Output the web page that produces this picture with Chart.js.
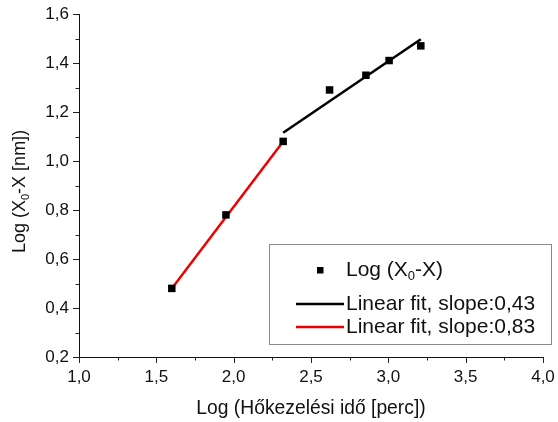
<!DOCTYPE html>
<html>
<head>
<meta charset="utf-8">
<script src="https://cdn.jsdelivr.net/npm/chart.js@4/dist/chart.umd.min.js"></script>
<style>
  html, body { margin: 0; padding: 0; background: #fff; }
  #wrap { position: relative; width: 558px; height: 422px; }
</style>
</head>
<body>
<div id="wrap"><canvas id="c" width="558" height="422"></canvas></div>
<script>
// Measured points: log of heat-treatment time vs log of (X0 - X)
const logTime = [1.60, 1.95, 2.32, 2.62, 2.855, 3.005, 3.21];
const logDiff = [0.48, 0.78, 1.08, 1.29, 1.35, 1.41, 1.47];

// Linear fit segments (end points)
const fitLateX = [2.32, 3.21];
const fitLateY = [1.115, 1.497];
const fitEarlyX = [1.60, 2.32];
const fitEarlyY = [0.48, 1.08];

// Axis ranges
const xMin = 1.0, xMax = 4.0, xStep = 0.25, xMajor = 0.5;
const yMin = 0.2, yMax = 1.6, yStep = 0.1, yMajor = 0.2;

// Labels ("_0" marks a subscript zero)
const seriesLabels = ['Log (X_0-X)', 'Linear fit, slope:0,43', 'Linear fit, slope:0,83'];
const xTitle = 'Log (Hőkezelési idő [perc])';
const yTitle = 'Log (X_0-X [nm])';

const FONT = '"Liberation Sans", Arial, sans-serif';

const toPts = (xs, ys) => xs.map((x, i) => ({ x: x, y: ys[i] }));
const isMajor = (v, m) => Math.abs(v / m - Math.round(v / m)) < 1e-6;
const fmt = v => v.toFixed(1).replace('.', ',');

// Draw text where "_0" becomes a subscript; returns total width
function drawRich(ctx, text, x, y, size, measureOnly) {
  const parts = text.split(/_(\d)/);
  let cx = x;
  parts.forEach((p, i) => {
    const sub = i % 2 === 1;
    const fs = sub ? size * 0.62 : size;
    ctx.font = fs + 'px ' + FONT;
    if (!measureOnly) ctx.fillText(p, cx, sub ? y + size * 0.32 : y);
    cx += ctx.measureText(p).width;
  });
  return cx - x;
}

const decorations = {
  id: 'decorations',
  afterDraw(chart) {
    const ctx = chart.ctx;
    const xs = chart.scales.x, ys = chart.scales.y;
    const area = chart.chartArea;
    ctx.save();

    // Tick marks (outward, major longer than minor)
    ctx.strokeStyle = '#222';
    ctx.lineWidth = 1;
    ys.ticks.forEach(t => {
      const py = Math.round(ys.getPixelForValue(t.value)) + 0.5;
      const len = isMajor(t.value, yMajor) ? 6 : 3.5;
      ctx.beginPath();
      ctx.moveTo(area.left, py);
      ctx.lineTo(area.left - len, py);
      ctx.stroke();
    });
    xs.ticks.forEach(t => {
      const px = Math.round(xs.getPixelForValue(t.value)) + 0.5;
      const len = isMajor(t.value, xMajor) ? 6 : 3.5;
      ctx.beginPath();
      ctx.moveTo(px, area.bottom);
      ctx.lineTo(px, area.bottom + len);
      ctx.stroke();
    });

    // Axis titles
    ctx.fillStyle = '#111';
    ctx.textBaseline = 'middle';
    ctx.textAlign = 'left';
    ctx.font = '19.3px ' + FONT;
    const xw = ctx.measureText(xTitle).width;
    ctx.fillText(xTitle, (area.left + area.right) / 2 - xw / 2, 409);

    ctx.save();
    ctx.translate(20, (area.top + area.bottom) / 2 + 6);
    ctx.rotate(-Math.PI / 2);
    const yw = drawRich(ctx, yTitle, 0, 0, 18, true);
    drawRich(ctx, yTitle, -yw / 2, 0, 18, false);
    ctx.restore();

    // Legend box
    const bx = 269.5, by = 244.5, bw = 282, bh = 100;
    ctx.fillStyle = '#fff';
    ctx.fillRect(bx, by, bw, bh);
    ctx.strokeStyle = '#8a8a8a';
    ctx.lineWidth = 1;
    ctx.strokeRect(bx, by, bw, bh);

    const ds = chart.data.datasets;
    const rows = [270, 304, 327];
    const textX = 346;
    const lSize = 21;
    // scatter marker
    ctx.fillStyle = ds[0].backgroundColor;
    ctx.fillRect(317, rows[0] - 3, 6.5, 6.5);
    // fit lines
    [1, 2].forEach(i => {
      ctx.strokeStyle = ds[i].borderColor;
      ctx.lineWidth = 2.5;
      ctx.beginPath();
      ctx.moveTo(296, rows[i]);
      ctx.lineTo(344, rows[i]);
      ctx.stroke();
    });
    ctx.fillStyle = '#111';
    ds.forEach((d, i) => drawRich(ctx, d.label, textX, rows[i], lSize, false));

    ctx.restore();
  }
};

new Chart(document.getElementById('c'), {
  type: 'scatter',
  data: {
    datasets: [
      {
        label: seriesLabels[0],
        data: toPts(logTime, logDiff),
        pointStyle: 'rect',
        pointRadius: 5.3,
        pointHoverRadius: 5.3,
        backgroundColor: '#000',
        borderColor: '#000',
        borderWidth: 0,
        showLine: false
      },
      {
        label: seriesLabels[1],
        data: toPts(fitLateX, fitLateY),
        showLine: true,
        borderColor: '#000',
        backgroundColor: '#000',
        borderWidth: 2.5,
        pointRadius: 0
      },
      {
        label: seriesLabels[2],
        data: toPts(fitEarlyX, fitEarlyY),
        showLine: true,
        borderColor: '#ee0000',
        backgroundColor: '#ee0000',
        borderWidth: 2.5,
        pointRadius: 0
      }
    ]
  },
  options: {
    responsive: false,
    animation: false,
    layout: { padding: { left: 0, right: 15, top: 14, bottom: 0 } },
    plugins: {
      legend: { display: false },
      tooltip: { enabled: false }
    },
    scales: {
      x: {
        type: 'linear',
        min: xMin, max: xMax,
        grid: { display: false, drawTicks: false },
        border: { display: true, color: '#111', width: 1 },
        ticks: {
          stepSize: xStep,
          autoSkip: false,
          maxRotation: 0,
          padding: 10,
          color: '#111',
          font: { family: FONT, size: 17 },
          callback: v => isMajor(v, xMajor) ? fmt(v) : ''
        },
        afterFit: s => { s.height = 65; s.paddingLeft = 0; s.paddingRight = 0; }
      },
      y: {
        type: 'linear',
        min: yMin, max: yMax,
        grid: { display: false, drawTicks: false },
        border: { display: true, color: '#111', width: 1 },
        ticks: {
          stepSize: yStep,
          autoSkip: false,
          padding: 10,
          color: '#111',
          font: { family: FONT, size: 17 },
          callback: v => isMajor(v, yMajor) ? fmt(v) : ''
        },
        afterFit: s => { s.width = 79; s.paddingTop = 0; s.paddingBottom = 0; }
      }
    }
  },
  plugins: [decorations]
});
</script>
</body>
</html>
